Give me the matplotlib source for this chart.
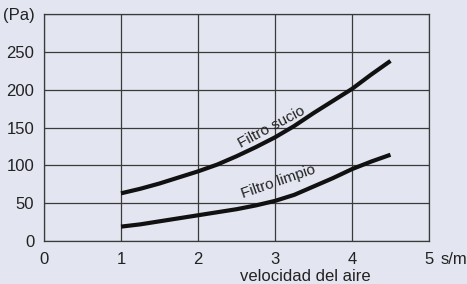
import matplotlib.pyplot as plt
import matplotlib.transforms as mtransforms

plt.rcParams['font.family'] = ['Liberation Sans', 'DejaVu Sans']

# velocidad del aire (s/m) vs. perdida de carga (Pa)
velocidad = [1.0, 1.25, 1.5, 1.75, 2.0, 2.25, 2.5, 2.75, 3.0, 3.25, 3.5, 3.75, 4.0, 4.25, 4.5]
filtro_sucio = [63, 69, 76, 84, 92, 101, 112, 124, 137, 152, 169, 185, 201, 220, 238]
filtro_limpio = [19, 22, 26, 30, 34, 38, 42, 47, 53, 61, 72, 83, 95, 105, 114]

x_ticks = [0, 1, 2, 3, 4, 5]
y_ticks = [0, 50, 100, 150, 200, 250, 300]
y_labels = ['0', '50', '100', '150', '200', '250', '(Pa)']

bg = '#e3e6f0'
grid_c = '#3a3a3a'
txt_c = '#222222'

fig = plt.figure(figsize=(4.67, 2.84), dpi=100, facecolor=bg)
ax = fig.add_axes([0.0942, 0.1514, 0.8244, 0.7993])
ax.set_facecolor(bg)

ax.plot(velocidad, filtro_sucio, color='#111111', lw=3.0, solid_capstyle='butt')
ax.plot(velocidad, filtro_limpio, color='#111111', lw=3.0, solid_capstyle='butt')

ax.set_xlim(0, 5)
ax.set_ylim(0, 300)
ax.set_xticks(x_ticks)
ax.set_yticks(y_ticks)
ax.set_yticklabels(y_labels)
ax.grid(True, color=grid_c, lw=0.9)
ax.set_axisbelow(True)
for s in ax.spines.values():
    s.set_color(grid_c)
    s.set_linewidth(0.9)
ax.tick_params(length=0, labelsize=12, colors=txt_c)
ax.tick_params(axis='y', pad=7)
ax.tick_params(axis='x', pad=8)

ax.text(2.95, 151, 'Filtro sucio', rotation=28, ha='center', va='center',
        fontsize=11, color=txt_c)
ax.text(3.05, 78, 'Filtro limpio', rotation=19, ha='center', va='center',
        fontsize=11, color=txt_c)

tr = mtransforms.blended_transform_factory(ax.transData, ax.transAxes)
ax.annotate('s/m', xy=(5, 0), xycoords=tr, xytext=(8, -8),
            textcoords='offset points', ha='left', va='top',
            fontsize=12, color=txt_c, annotation_clip=False)
ax.text(3.4, -0.155, 'velocidad del aire', transform=tr, ha='center', va='center',
        fontsize=12, color=txt_c, clip_on=False)

fig.savefig('out.png', dpi=100, facecolor=bg)
